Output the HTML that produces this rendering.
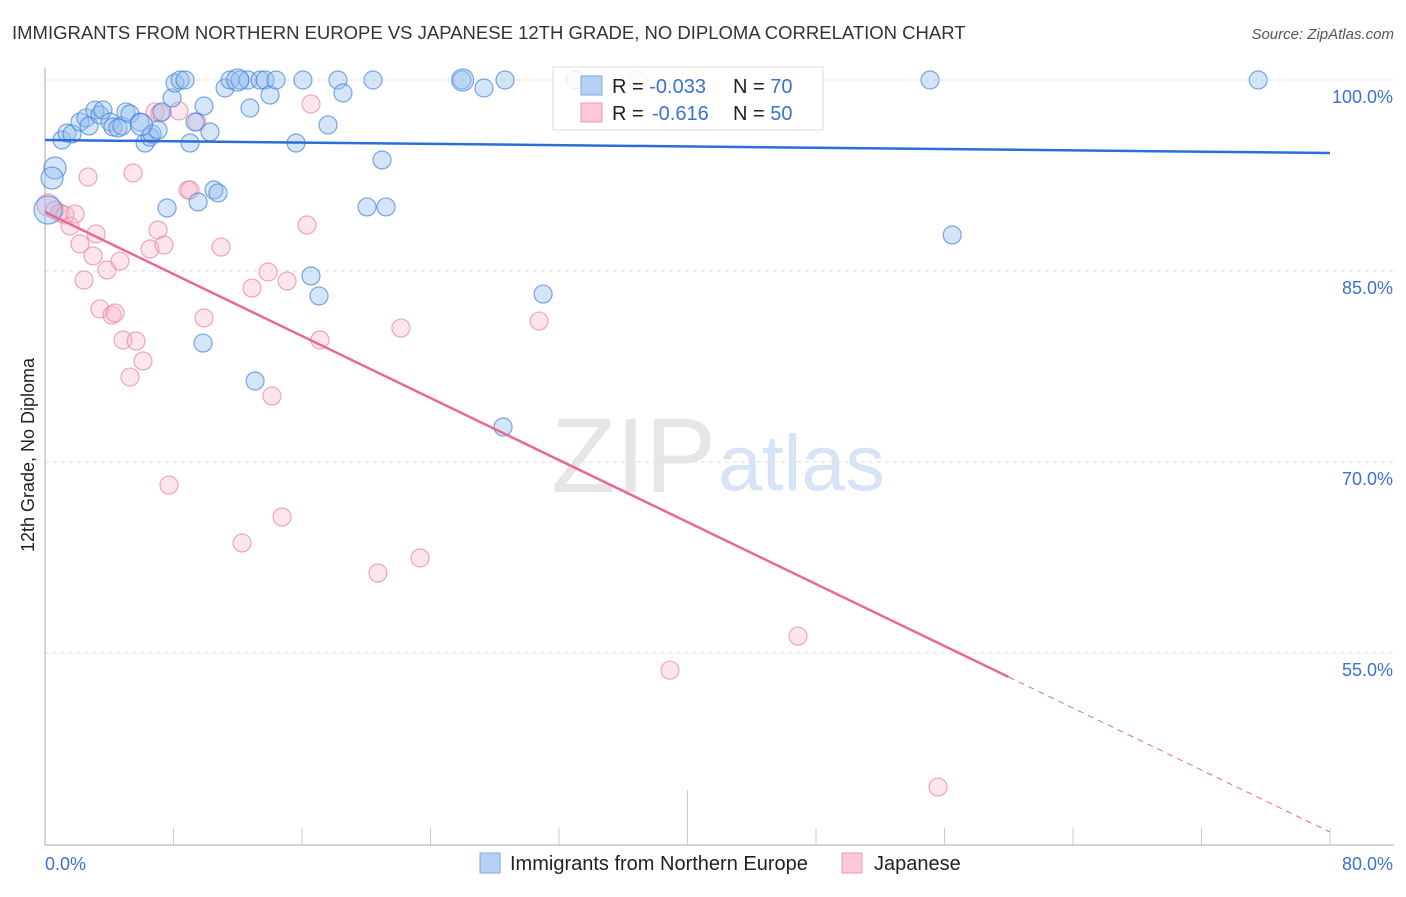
<!DOCTYPE html>
<html><head><meta charset="utf-8"><style>
body{margin:0;background:#fff;font-family:"Liberation Sans",sans-serif;}
svg text{font-family:"Liberation Sans",sans-serif;}
</style></head><body>
<svg id="chart" width="1406" height="892" xmlns="http://www.w3.org/2000/svg">
<text x="12" y="39" font-size="18.5" fill="#333">IMMIGRANTS FROM NORTHERN EUROPE VS JAPANESE 12TH GRADE, NO DIPLOMA CORRELATION CHART</text>
<text x="1394" y="39" font-size="15" fill="#555" text-anchor="end" font-style="italic">Source: ZipAtlas.com</text>
<text x="716" y="492" font-size="106" fill="#e6e6e6" text-anchor="end" font-family="Liberation Serif">ZIP</text>
<text x="718" y="490" font-size="79" fill="#d6e4f5">atlas</text>
<text transform="translate(34,455) rotate(-90)" font-size="18" fill="#222" text-anchor="middle">12th Grade, No Diploma</text>
<g id="grid"></g><g id="axes"></g><g id="marks"></g><g id="lines"></g>
<g>
<rect x="553" y="67" width="270" height="63" fill="#fff" fill-opacity="0.85" stroke="#ddd"/>
<rect x="581" y="76" width="21" height="19" fill="#b7d1f5" stroke="#7aa8e6"/>
<rect x="581" y="103" width="21" height="19" fill="#fac8d7" stroke="#ee97b2"/>
<text x="612" y="93" font-size="20" fill="#222">R = <tspan fill="#3b72d0">-0.033</tspan><tspan x="733">N = </tspan><tspan fill="#3b72d0">70</tspan></text>
<text x="612" y="120" font-size="20" fill="#222">R = <tspan fill="#3b72d0" x="652">-0.616</tspan><tspan x="733">N = </tspan><tspan fill="#3b72d0">50</tspan></text>
</g>
<g>
<rect x="480" y="853" width="20" height="20" fill="#b7d1f5" stroke="#7aa8e6"/>
<text x="510" y="870" font-size="20" fill="#222">Immigrants from Northern Europe</text>
<rect x="842" y="853" width="20" height="20" fill="#fac8d7" stroke="#ee97b2"/>
<text x="874" y="870" font-size="20" fill="#222">Japanese</text>
</g>
</svg>
<script>
const blueX=[1.06,1.37,1.68,2.18,2.55,2.74,3.11,3.42,3.61,4.05,4.23,4.54,4.79,5.04,5.29,5.91,6.23,6.54,6.66,7.04,7.28,7.60,7.91,8.09,8.41,8.72,9.03,9.34,9.53,9.90,10.27,10.52,10.77,9.84,11.21,11.52,12.14,12.64,12.76,13.39,13.70,14.01,14.38,13.08,15.63,16.06,16.56,17.06,17.62,18.24,18.55,20.05,20.42,20.98,21.23,25.96,27.33,28.64,28.52,31.01,33.00,55.10,56.48,75.53,0.62,0.44,0.19,26.0,12.0,6.0];
const blueY=[95.29,95.84,95.76,96.70,97.02,96.39,97.64,97.25,97.64,96.70,96.31,96.23,96.39,97.49,97.33,96.70,95.05,95.52,95.76,96.07,97.49,89.95,98.59,99.76,100,100,95.05,96.70,90.42,97.96,95.92,91.36,91.13,79.34,99.37,100,100,100,97.80,100,100,98.82,100,76.36,95.05,100,84.61,83.04,96.47,100,98.98,90.03,100,93.72,90.03,100,99.37,100,72.75,83.19,100,100,87.83,100,93.09,92.30,89.79,100,100,96.5];
const pinkX=[0.19,0.62,0.93,1.25,1.56,1.87,2.18,2.43,2.68,2.99,3.18,3.42,3.86,4.17,4.36,4.67,4.86,5.29,5.48,5.67,6.10,6.54,6.85,7.04,7.16,7.41,7.72,8.34,8.90,9.03,9.46,9.90,10.96,12.27,12.89,13.89,14.13,14.76,15.07,16.31,16.56,17.12,20.73,22.16,23.35,30.76,36.92,38.91,46.88,55.60];
const pinkY=[90.18,89.79,89.55,89.40,88.53,89.48,87.12,84.29,92.38,86.18,87.91,82.02,85.08,81.54,81.70,85.78,79.58,76.67,92.70,79.50,77.93,86.73,97.49,88.22,97.41,87.04,68.19,97.57,91.36,91.36,96.70,81.31,86.88,63.64,83.66,84.92,75.18,65.68,84.21,88.61,98.12,79.58,61.28,80.52,62.46,81.07,100,53.65,56.33,44.47];
const blueTrend=[95.29,94.27];
const pinkTrend=[89.63,40.94];
const yTicks=[100,85,70,55];
const xTickLabels=["0.0%","80.0%"];
const NS="http://www.w3.org/2000/svg";
const X0=45,X1=1330,Y0=844,Y1=80;
const sx=v=>X0+(v/80)*(X1-X0);
const sy=v=>Y0-((v-40)/60)*(Y0-Y1);
function mk(p,t,a){const e=document.createElementNS(NS,t);for(const k in a)e.setAttribute(k,a[k]);document.getElementById(p).appendChild(e);return e;}
yTicks.forEach(t=>{
 const l=mk('grid','line',{x1:X0,x2:1394,y1:sy(t),y2:sy(t),stroke:'#ddd','stroke-dasharray':'4,4'});
 
 
 const tx=mk('grid','text',{x:1393,y:sy(t)+23,'font-size':18,fill:'#3b72d0','text-anchor':'end'});
 tx.textContent=t.toFixed(1)+'%';
 
 
});
let ax=mk('axes','line',{x1:X0,x2:X0,y1:68,y2:845,stroke:'#aaa'});


ax=mk('axes','line',{x1:X0,x2:1394,y1:845,y2:845,stroke:'#aaa'});


for(let i=1;i<=10;i++){const x=sx(i*8);const t=mk('axes','line',{x1:x,x2:x,y1:i==5?790:828,y2:845,stroke:'#ccc'});
 
 }
let xl=mk('axes','text',{x:45,y:870,'font-size':18,fill:'#3b72d0'});xl.textContent=xTickLabels[0];


xl=mk('axes','text',{x:1393,y:870,'font-size':18,fill:'#3b72d0','text-anchor':'end'});xl.textContent=xTickLabels[1];


pinkX.forEach((v,i)=>{const c=mk('marks','circle',{cx:sx(v),cy:sy(pinkY[i]),r:i==0?11:9,fill:'rgba(248,180,200,0.35)',stroke:'rgba(236,130,165,0.7)','stroke-width':1.2});
 
 });
blueX.forEach((v,i)=>{const c=mk('marks','circle',{cx:sx(v),cy:sy(blueY[i]),r:i==66?14:(i>=64?11:9),fill:'rgba(150,190,240,0.4)',stroke:'rgba(70,130,215,0.7)','stroke-width':1.2});
 
 });
let tl=mk('lines','line',{x1:sx(0),y1:sy(blueTrend[0]),x2:sx(80),y2:sy(blueTrend[1]),stroke:'#2a6fd6','stroke-width':2.5});


const pm=v=>pinkTrend[0]+(pinkTrend[1]-pinkTrend[0])*v/80;
tl=mk('lines','line',{x1:sx(0),y1:sy(pm(0)),x2:sx(60),y2:sy(pm(60)),stroke:'#e8689a','stroke-width':2.5});


tl=mk('lines','line',{x1:sx(60),y1:sy(pm(60)),x2:sx(80),y2:sy(pm(80)),stroke:'#e8689a','stroke-width':1,'stroke-dasharray':'6,5'});


</script>
</body></html>
